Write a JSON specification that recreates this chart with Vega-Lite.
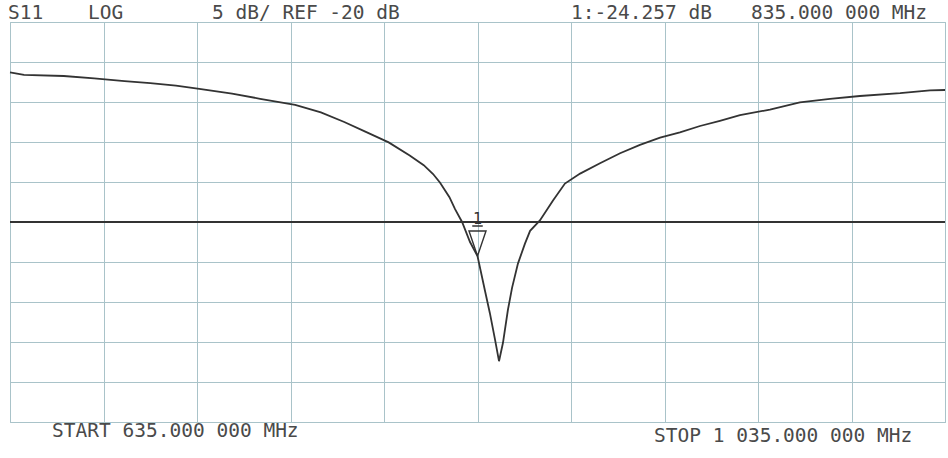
{
  "$schema": "https://vega.github.io/schema/vega-lite/v6.json",
  "width": 935,
  "height": 400,
  "autosize": {"type": "none"},
  "padding": {"left": 10, "top": 22, "right": 3, "bottom": 36},
  "background": "white",
  "config": {
    "view": {"stroke": "#a9c3c9", "strokeWidth": 1},
    "axis": {"grid": true, "labels": false, "ticks": false, "domain": false, "gridColor": "#a9c3c9", "gridOpacity": 1, "gridWidth": 1}
  },
  "datasets": {
    "trace": [
      {"f": 635.0, "db": -1.3}, {"f": 641.0, "db": -1.6}, {"f": 658.0, "db": -1.75},
      {"f": 671.0, "db": -2.05}, {"f": 684.0, "db": -2.4}, {"f": 695.0, "db": -2.65},
      {"f": 706.0, "db": -2.95}, {"f": 716.0, "db": -3.35}, {"f": 730.0, "db": -3.95},
      {"f": 742.0, "db": -4.6}, {"f": 757.0, "db": -5.35}, {"f": 768.0, "db": -6.3},
      {"f": 778.0, "db": -7.5}, {"f": 787.0, "db": -8.7}, {"f": 797.0, "db": -10.05},
      {"f": 806.0, "db": -11.7}, {"f": 812.0, "db": -12.9}, {"f": 816.0, "db": -14.0},
      {"f": 819.0, "db": -15.1}, {"f": 823.0, "db": -16.9}, {"f": 825.4, "db": -18.4},
      {"f": 828.4, "db": -20.0}, {"f": 831.8, "db": -22.5}, {"f": 835.0, "db": -24.26},
      {"f": 838.2, "db": -28.6}, {"f": 840.3, "db": -31.4}, {"f": 842.5, "db": -34.7},
      {"f": 844.2, "db": -37.4}, {"f": 845.9, "db": -35.1}, {"f": 848.0, "db": -31.0},
      {"f": 849.8, "db": -28.2}, {"f": 852.3, "db": -25.2}, {"f": 855.3, "db": -22.7},
      {"f": 857.5, "db": -21.1}, {"f": 861.7, "db": -19.8}, {"f": 867.3, "db": -17.3},
      {"f": 872.4, "db": -15.2}, {"f": 878.9, "db": -13.95}, {"f": 887.4, "db": -12.65},
      {"f": 896.0, "db": -11.4}, {"f": 904.5, "db": -10.35}, {"f": 913.1, "db": -9.45},
      {"f": 921.6, "db": -8.8}, {"f": 930.2, "db": -8.0}, {"f": 938.7, "db": -7.35},
      {"f": 947.3, "db": -6.65}, {"f": 960.1, "db": -5.95}, {"f": 972.9, "db": -5.05},
      {"f": 985.8, "db": -4.6}, {"f": 998.6, "db": -4.25}, {"f": 1015.8, "db": -3.9},
      {"f": 1028.6, "db": -3.55}, {"f": 1035.0, "db": -3.5}
    ],
    "reference": [{"db": -20}],
    "marker": [{"f": 835.0, "db": -24.257, "label": "1"}],
    "notes": [
      {"label": "S11", "f": 634.1, "db": 5.375},
      {"label": "LOG", "f": 668.4, "db": 5.375},
      {"label": "5 dB/ REF -20 dB", "f": 721.4, "db": 5.375},
      {"label": "1:-24.257 dB", "f": 875.0, "db": 5.375},
      {"label": "835.000 000 MHz", "f": 952.0, "db": 5.375},
      {"label": "START 635.000 000 MHz", "f": 653.0, "db": -46.875},
      {"label": "STOP 1 035.000 000 MHz", "f": 910.5, "db": -47.5}
    ]
  },
  "layer": [
    {
      "data": {"name": "trace"},
      "mark": {"type": "line", "color": "#333333", "strokeWidth": 1.8},
      "encoding": {
        "x": {"field": "f", "type": "quantitative", "title": null, "scale": {"domain": [635, 1035], "nice": false, "zero": false},
              "axis": {"values": [635, 675, 715, 755, 795, 835, 875, 915, 955, 995, 1035]}},
        "y": {"field": "db", "type": "quantitative", "title": null, "scale": {"domain": [-45, 5], "nice": false, "zero": false},
              "axis": {"values": [-45, -40, -35, -30, -25, -20, -15, -10, -5, 0, 5]}}
      }
    },
    {
      "data": {"name": "reference"},
      "mark": {"type": "rule", "color": "#333333", "strokeWidth": 2},
      "encoding": {
        "y": {"field": "db", "type": "quantitative", "title": null,
              "axis": {"values": [-45, -40, -35, -30, -25, -20, -15, -10, -5, 0, 5]}}
      }
    },
    {
      "data": {"name": "marker"},
      "mark": {"type": "point", "shape": "M-0.68,-1L0.68,-1L0,1Z M-0.42,-1.4L0.42,-1.4", "size": 625, "yOffset": -12.5, "filled": false, "stroke": "#333333", "strokeWidth": 1.4, "opacity": 1},
      "encoding": {
        "x": {"field": "f", "type": "quantitative", "title": null,
              "axis": {"values": [635, 675, 715, 755, 795, 835, 875, 915, 955, 995, 1035]}},
        "y": {"field": "db", "type": "quantitative", "title": null,
              "axis": {"values": [-45, -40, -35, -30, -25, -20, -15, -10, -5, 0, 5]}}
      }
    },
    {
      "data": {"name": "marker"},
      "mark": {"type": "text", "dy": -32, "fontSize": 15, "font": "DejaVu Sans Mono", "color": "#333333", "baseline": "alphabetic"},
      "encoding": {
        "x": {"field": "f", "type": "quantitative", "title": null,
              "axis": {"values": [635, 675, 715, 755, 795, 835, 875, 915, 955, 995, 1035]}},
        "y": {"field": "db", "type": "quantitative", "title": null,
              "axis": {"values": [-45, -40, -35, -30, -25, -20, -15, -10, -5, 0, 5]}},
        "text": {"field": "label"}
      }
    },
    {
      "data": {"name": "notes"},
      "mark": {"type": "text", "align": "left", "baseline": "alphabetic", "fontSize": 19.5, "font": "DejaVu Sans Mono", "color": "#4a4a4a"},
      "encoding": {
        "x": {"field": "f", "type": "quantitative", "title": null,
              "axis": {"values": [635, 675, 715, 755, 795, 835, 875, 915, 955, 995, 1035]}},
        "y": {"field": "db", "type": "quantitative", "title": null,
              "axis": {"values": [-45, -40, -35, -30, -25, -20, -15, -10, -5, 0, 5]}},
        "text": {"field": "label"}
      }
    }
  ]
}
